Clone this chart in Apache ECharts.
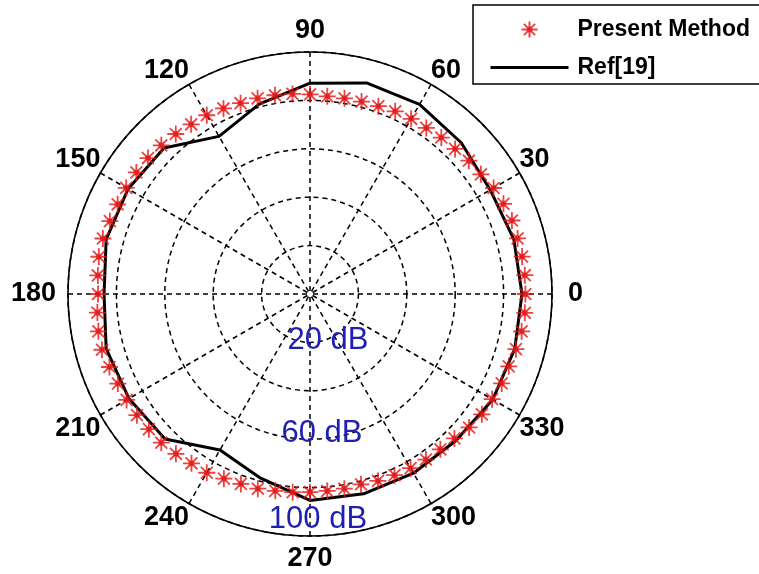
<!DOCTYPE html>
<html>
<head>
<meta charset="utf-8">
<script src="https://cdn.jsdelivr.net/npm/echarts@6/dist/echarts.min.js"></script>
<style>
  html, body { margin: 0; padding: 0; background: #fff; }
  #chart { width: 759px; height: 574px; }
</style>
</head>
<body>
<div id="chart"></div>
<script>
// Present Method: one point every 5 degrees (dB)
var presentAngles = [0, 5, 10, 15, 20, 25, 30, 35, 40, 45, 50, 55, 60, 65, 70, 75, 80, 85,
  90, 95, 100, 105, 110, 115, 120, 125, 130, 135, 140, 145, 150, 155, 160, 165, 170, 175,
  180, 185, 190, 195, 200, 205, 210, 215, 220, 225, 230, 235, 240, 245, 250, 255, 260, 265,
  270, 275, 280, 285, 290, 295, 300, 305, 310, 315, 320, 325, 330, 335, 340, 345, 350, 355];
var presentMethod = [89.0, 89.1, 89.0, 88.8, 88.8, 88.2, 87.6, 86.2, 85.7, 84.8, 84.4, 83.8,
  83.6, 83.3, 82.6, 82.3, 82.1, 82.0, 82.5, 83.0, 83.4, 83.7, 83.9, 84.6, 85.3, 85.6, 86.3,
  86.9, 87.4, 87.6, 87.7, 87.7, 88.0, 88.6, 88.6, 88.0, 87.6, 88.2, 88.8, 89.0, 88.2, 87.6,
  87.5, 87.3, 86.9, 86.9, 86.2, 85.4, 85.3, 84.2, 83.5, 83.3, 82.6, 82.2, 81.9, 81.7, 81.7,
  81.4, 82.2, 82.6, 83.1, 83.5, 83.8, 84.4, 85.8, 86.7, 86.9, 87.4, 87.4, 88.1, 88.8, 89.1];

// Ref[19]: one vertex every 15 degrees (dB)
var refAngles = [0, 15, 30, 45, 60, 75, 90, 105, 120, 135, 150, 165,
  180, 195, 210, 225, 240, 255, 270, 285, 300, 315, 330, 345];
var ref19 = [87.6, 87.2, 86.0, 88.4, 90.5, 90.3, 87.1, 81.2, 75.2, 85.3, 86.8, 87.2,
  85.1, 87.2, 86.4, 84.7, 74.4, 78.8, 85.3, 85.5, 85.5, 85.5, 87.2, 87.6];

var radiusLabelValues = [20, 60, 100];
var radiusLabels = ['20 dB', '60 dB', '100 dB'];

// the angle axis starts at the bottom so the dB labels sit on the 270 spoke
function toAxis(theta) {
  return (theta + 90) % 360;
}

var presentData = [];
for (var i = 0; i < presentAngles.length; i++) {
  presentData.push([presentMethod[i], toAxis(presentAngles[i])]);
}
var refData = [];
for (var j = 0; j < refAngles.length; j++) {
  refData.push([ref19[j], toAxis(refAngles[j])]);
}
refData.push(refData[0]);

var asterisk = 'path://M0,-10L0,10M-10,0L10,0M-7,-7L7,7M-7,7L7,-7M-2.5,-2.5L2.5,-2.5L2.5,2.5L-2.5,2.5Z';

// extra room around the labels on the main directions
var cardinalStyle = { 0: 'e', 90: 'n', 180: 'w', 270: 's' };

var myChart = echarts.init(document.getElementById('chart'));

var option = {
  animation: false,
  backgroundColor: '#fff',
  textStyle: { fontFamily: 'Liberation Sans, Arial, sans-serif' },
  legend: {
    orient: 'vertical',
    left: 473,
    top: 5,
    padding: [13, 40, 5, 16],
    itemWidth: 78,
    itemHeight: 16,
    itemGap: 15,
    borderColor: '#000',
    borderWidth: 1.5,
    backgroundColor: '#fff',
    textStyle: { fontSize: 23, fontWeight: 'bold', color: '#000', padding: [0, 0, 0, 4] },
    data: [
      { name: 'Present Method' },
      { name: 'Ref[19]', itemStyle: { opacity: 0 }, lineStyle: { width: 3, color: '#000' } }
    ]
  },
  polar: {
    center: [310, 294],
    radius: 242
  },
  angleAxis: {
    type: 'value',
    min: 0,
    max: 360,
    interval: 30,
    startAngle: 270,
    clockwise: false,
    axisLine: { lineStyle: { color: '#000', width: 1.6 } },
    axisTick: { show: false },
    splitLine: { lineStyle: { color: '#000', width: 1.5, type: [5, 4] } },
    axisLabel: {
      margin: 0,
      fontSize: 27,
      fontWeight: 'bold',
      color: '#000',
      formatter: function (v) {
        var deg = (v + 270) % 360;
        var s = cardinalStyle[deg];
        return s ? '{' + s + '|' + deg + '}' : String(deg);
      },
      rich: {
        n: { padding: [8, 0, 8, 0] },
        s: { padding: [9, 0, 9, 0] },
        e: { padding: [0, 16, 0, 16] },
        w: { padding: [0, 12, 0, 12] }
      }
    }
  },
  radiusAxis: {
    min: 0,
    max: 100,
    interval: 20,
    axisLine: { show: false },
    axisTick: { show: false },
    splitLine: { lineStyle: { color: '#000', width: 1.5, type: [5, 4] } },
    axisLabel: {
      margin: 12,
      align: 'center',
      verticalAlign: 'middle',
      fontSize: 31,
      color: '#1f1fb4',
      formatter: function (v) {
        var k = radiusLabelValues.indexOf(v);
        if (k < 0) return '';
        return '{r' + k + '|' + radiusLabels[k] + '}';
      },
      rich: {
        r0: { padding: [0, 0, 4, 12] },
        r1: { padding: [0, 0, 11, 0] },
        r2: { padding: [0, 8, 34, 0] }
      }
    }
  },
  series: [
    {
      name: 'Present Method',
      type: 'scatter',
      coordinateSystem: 'polar',
      symbol: asterisk,
      symbolSize: 17,
      symbolKeepAspect: true,
      itemStyle: { color: '#e41414', borderColor: '#e41414', borderWidth: 1.8 },
      data: presentData,
      z: 3
    },
    {
      name: 'Ref[19]',
      type: 'line',
      coordinateSystem: 'polar',
      symbol: 'none',
      lineStyle: { color: '#000', width: 3 },
      itemStyle: { color: '#000' },
      data: refData,
      z: 2
    }
  ]
};

myChart.setOption(option);
</script>
</body>
</html>
